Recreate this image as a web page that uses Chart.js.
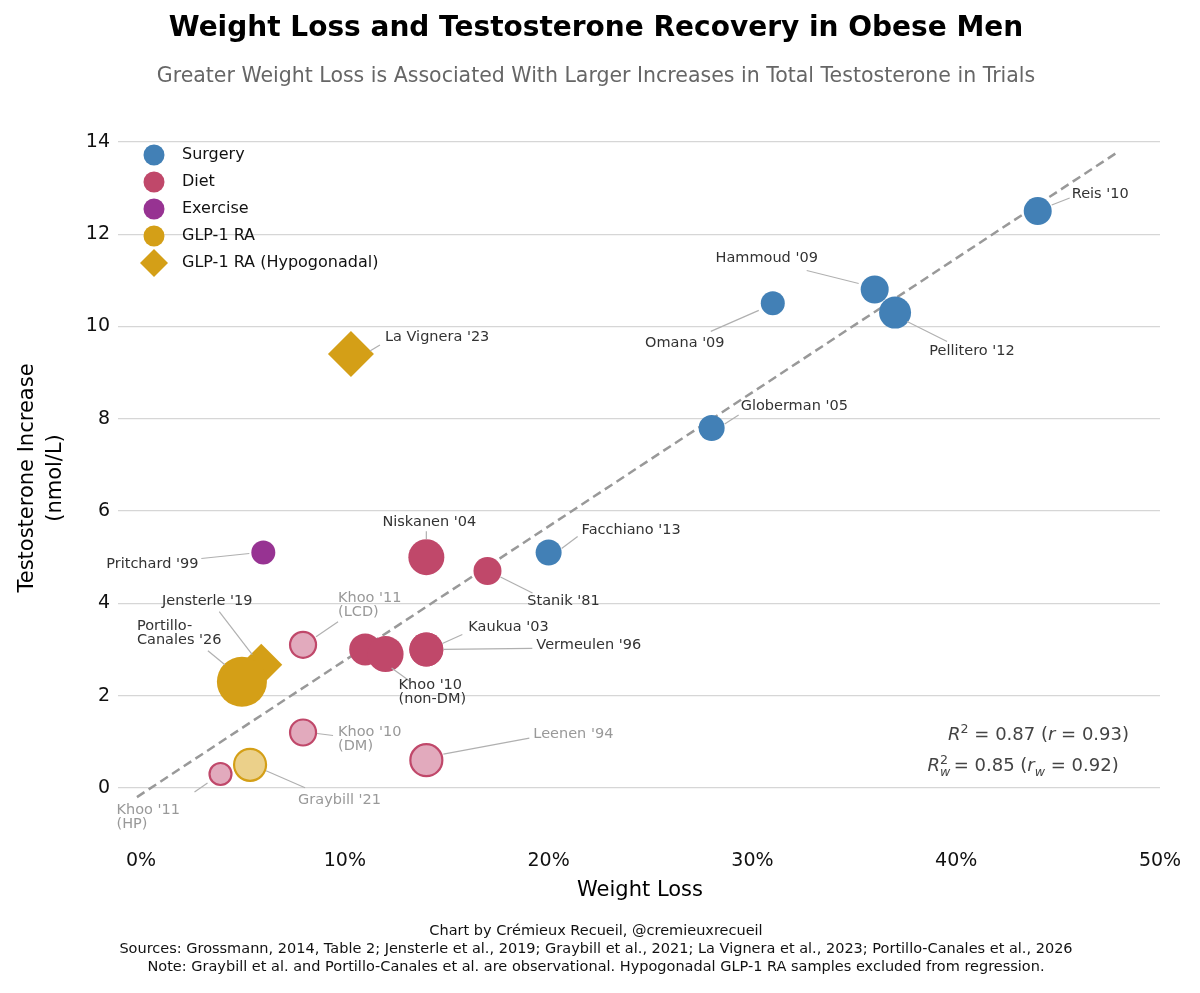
<!DOCTYPE html>
<html>
<head>
<meta charset="utf-8">
<script src="https://cdn.jsdelivr.net/npm/chart.js@4"></script>
<style>
  body { margin: 0; background: #fff; }
  #wrap { width: 1200px; height: 993px; }
</style>
</head>
<body>
<div id="wrap"><canvas id="graph-canvas" width="1200" height="993"></canvas></div>
<script>
// ---- data ----
const surgeryNames = ["Reis '10", "Hammoud '09", "Pellitero '12", "Omana '09", "Globerman '05", "Facchiano '13"]
const surgeryLoss = [44, 36, 37, 31, 28, 20]
const surgeryT = [12.5, 10.8, 10.3, 10.5, 7.8, 5.1]
const surgerySize = [14, 14, 16, 12, 13, 13]

const dietNames = ["Niskanen '04", "Stanik '81", "", "Khoo '10\n(non-DM)", "Kaukua '03", "Vermeulen '96"]
const dietLoss = [14, 17, 11, 12, 14, 14]
const dietT = [5.0, 4.7, 3.0, 2.9, 3.0, 3.0]
const dietSize = [18, 14, 16, 18, 17, 17]

const dietObsNames = ["Khoo '11\n(LCD)", "Khoo '10\n(DM)", "Leenen '94", "Khoo '11\n(HP)"]
const dietObsLoss = [7.95, 7.95, 14, 3.9]
const dietObsT = [3.1, 1.2, 0.6, 0.3]
const dietObsSize = [13, 13, 16, 11]

const exerciseNames = ["Pritchard '99"]
const exerciseLoss = [6]
const exerciseT = [5.1]
const exerciseSize = [12]

const glpNames = ["Portillo-\nCanales '26", "Graybill '21"]
const glpLoss = [4.95, 5.35]
const glpT = [2.3, 0.5]
const glpSize = [25, 16]

const hypoNames = ["Jensterle '19", "La Vignera '23"]
const hypoLoss = [5.9, 10.3]
const hypoT = [2.67, 9.4]
const hypoSize = [21, 23]

const fitLoss = [-0.2, 48]
const fitT = [-0.2, 13.8]

const xTicks = [0, 10, 20, 30, 40, 50]
const yTicks = [0, 2, 4, 6, 8, 10, 12, 14]

// label placement: text offset from point, leader line start/end offsets (px)
const labelPlace = {
  "Reis '10": { t: [34, -17], a: 'left', l: [14, -6, 32, -13] },
  "Hammoud '09": { t: [-108, -31], a: 'center', l: [-16, -6, -68, -19] },
  "Pellitero '12": { t: [77, 39], a: 'center', l: [12, 9, 52, 29] },
  "Omana '09": { t: [-88, 40], a: 'center', l: [-14, 7, -62, 28] },
  "Globerman '05": { t: [29, -22], a: 'left', l: [13, -4, 27, -13] },
  "Facchiano '13": { t: [33, -22], a: 'left', l: [13, -4, 29, -16] },
  "Niskanen '04": { t: [3, -35], a: 'center', l: [0, -18, 0, -26] },
  "Stanik '81": { t: [76, 30], a: 'center', l: [13, 6, 45, 22] },
  "Khoo '10\n(non-DM)": { t: [13, 31], a: 'left', l: [6, 14, 24, 27] },
  "Kaukua '03": { t: [42, -22], a: 'left', l: [16, -6, 36, -15] },
  "Vermeulen '96": { t: [110, -4], a: 'left', l: [17, 0, 106, -1] },
  "Khoo '11\n(LCD)": { t: [35, -47], a: 'left', l: [13, -8, 35, -23] },
  "Khoo '10\n(DM)": { t: [35, 0], a: 'left', l: [14, 1, 30, 3] },
  "Leenen '94": { t: [107, -26], a: 'left', l: [17, -6, 103, -22] },
  "Khoo '11\n(HP)": { t: [-104, 36], a: 'left', l: [-13, 9, -26, 18] },
  "Pritchard '99": { t: [-111, 12], a: 'center', l: [-14, 1, -62, 6] },
  "Portillo-\nCanales '26": { t: [-105, -55], a: 'left', l: [-17, -17, -34, -31] },
  "Graybill '21": { t: [48, 35], a: 'left', l: [16, 6, 55, 23] },
  "Jensterle '19": { t: [-54, -63], a: 'center', l: [-9, -10, -42, -53] },
  "La Vignera '23": { t: [34, -17], a: 'left', l: [19, -3, 29, -9] }
}

const grayLabels = ["Khoo '11\n(LCD)", "Khoo '10\n(DM)", "Leenen '94", "Khoo '11\n(HP)", "Graybill '21"]

const C_SURG = '#4280b6', C_DIET = '#c0486a', C_EX = '#973392', C_GLP = '#d49f17'

const pts = (xs, ys) => xs.map((x, i) => ({ x: x, y: ys[i] }))
const FONT = "'DejaVu Sans', sans-serif"

const scatterSet = (names, xs, ys, sizes, bg, border, bw, style, order) => ({
  type: 'scatter', names: names, data: pts(xs, ys), pointRadius: sizes, pointHoverRadius: sizes,
  backgroundColor: bg, borderColor: border, borderWidth: bw, pointStyle: style, order: order
})

const datasets = [
  { type: 'line', data: pts(fitLoss, fitT), borderColor: '#999', borderWidth: 2.5, borderDash: [9, 5],
    pointRadius: 0, fill: false, order: 20 },
  scatterSet(dietObsNames, dietObsLoss, dietObsT, dietObsSize, '#e2aabd', C_DIET, 2.2, 'circle', 5),
  scatterSet(surgeryNames, surgeryLoss, surgeryT, surgerySize, C_SURG, C_SURG, 0, 'circle', 4),
  scatterSet(dietNames, dietLoss, dietT, dietSize, C_DIET, C_DIET, 0, 'circle', 4),
  scatterSet(exerciseNames, exerciseLoss, exerciseT, exerciseSize, C_EX, C_EX, 0, 'circle', 4),
  scatterSet(hypoNames, hypoLoss, hypoT, hypoSize, C_GLP, C_GLP, 0, 'rectRot', 3),
  scatterSet(glpNames.slice(0, 1), glpLoss.slice(0, 1), glpT.slice(0, 1), glpSize.slice(0, 1), C_GLP, C_GLP, 0, 'circle', 2),
  scatterSet(glpNames.slice(1), glpLoss.slice(1), glpT.slice(1), glpSize.slice(1), '#ebd08a', C_GLP, 2.2, 'circle', 2)
]

const legendItems = [
  ['Surgery', C_SURG, 'circle'], ['Diet', C_DIET, 'circle'], ['Exercise', C_EX, 'circle'],
  ['GLP-1 RA', C_GLP, 'circle'], ['GLP-1 RA (Hypogonadal)', C_GLP, 'diamond']
]

drawSegments = (ctx, segs, xRight, y, size) => {
  // right-aligned run of text pieces with italic / sup / sub
  const fontFor = (s) => (s.i ? 'italic ' : '') + (s.sup || s.sub ? size * 0.7 : size) + 'px ' + FONT
  let total = 0
  segs.forEach(s => { ctx.font = fontFor(s); s.w = ctx.measureText(s.t).width; total += s.sup && s.overlap ? 0 : s.w })
  let x = xRight - total
  let lastX = x
  segs.forEach(s => {
    ctx.font = fontFor(s)
    let dy = s.sup ? -size * 0.4 : s.sub ? size * 0.3 : 0
    let dx = s.overlap ? lastX : x
    ctx.fillText(s.t, dx, y + dy)
    if (!s.overlap) { lastX = x; x += s.w }
  })
}

const decor = {
  id: 'decor',
  afterDatasetsDraw(chart) {
    const ctx = chart.ctx
    const xs = chart.scales.x, ys = chart.scales.y
    ctx.save()
    // point labels
    chart.data.datasets.forEach((ds, di) => {
      if (!ds.names) return
      ds.data.forEach((p, i) => {
        const name = ds.names[i]
        const pl = labelPlace[name]
        if (!name || !pl) return
        const px = xs.getPixelForValue(p.x), py = ys.getPixelForValue(p.y)
        ctx.strokeStyle = '#b0b0b0'; ctx.lineWidth = 1.2
        ctx.beginPath(); ctx.moveTo(px + pl.l[0], py + pl.l[1]); ctx.lineTo(px + pl.l[2], py + pl.l[3]); ctx.stroke()
        ctx.fillStyle = grayLabels.includes(name) ? '#999' : '#333'
        ctx.font = '14.5px ' + FONT
        ctx.textAlign = pl.a; ctx.textBaseline = 'middle'
        name.split('\n').forEach((ln, k) => ctx.fillText(ln, px + pl.t[0], py + pl.t[1] + k * 14))
      })
    })
    // legend
    ctx.textAlign = 'left'; ctx.textBaseline = 'middle'; ctx.font = '16px ' + FONT
    legendItems.forEach((it, k) => {
      const cx = 154, cy = 155 + k * 27
      ctx.fillStyle = it[1]
      ctx.beginPath()
      if (it[2] === 'circle') ctx.arc(cx, cy, 10.5, 0, Math.PI * 2)
      else { ctx.moveTo(cx, cy - 14); ctx.lineTo(cx + 14, cy); ctx.lineTo(cx, cy + 14); ctx.lineTo(cx - 14, cy) }
      ctx.fill()
      ctx.fillStyle = '#111'
      ctx.fillText(it[0], 182, cy)
    })
    // fit statistics
    ctx.fillStyle = '#444'; ctx.textAlign = 'left'; ctx.textBaseline = 'alphabetic'
    drawSegments(ctx, [{ t: 'R', i: true }, { t: '2', sup: true }, { t: ' = 0.87 (' }, { t: 'r', i: true }, { t: ' = 0.93)' }], 1129, 740, 18)
    drawSegments(ctx, [{ t: 'R', i: true }, { t: '2', sup: true }, { t: 'w', sub: true, i: true, overlap: true }, { t: ' = 0.85 (' }, { t: 'r', i: true }, { t: 'w', sub: true, i: true }, { t: ' = 0.92)' }], 1129, 771, 18)
    // titles
    ctx.textAlign = 'center'; ctx.textBaseline = 'middle'
    ctx.fillStyle = '#000'; ctx.font = 'bold 28px ' + FONT
    ctx.fillText('Weight Loss and Testosterone Recovery in Obese Men', 596, 29)
    ctx.fillStyle = '#666'; ctx.font = '20.5px ' + FONT
    ctx.fillText('Greater Weight Loss is Associated With Larger Increases in Total Testosterone in Trials', 596, 77)
    ctx.fillStyle = '#000'; ctx.font = '21px ' + FONT
    ctx.fillText('Weight Loss', 640, 891)
    ctx.save(); ctx.translate(28, 478); ctx.rotate(-Math.PI / 2)
    ctx.fillText('Testosterone Increase', 0, 0); ctx.fillText('(nmol/L)', 0, 28)
    ctx.restore()
    ctx.font = '14.5px ' + FONT; ctx.fillStyle = '#111'
    ctx.fillText('Chart by Crémieux Recueil, @cremieuxrecueil', 596, 931)
    ctx.fillText('Sources: Grossmann, 2014, Table 2; Jensterle et al., 2019; Graybill et al., 2021; La Vignera et al., 2023; Portillo-Canales et al., 2026', 596, 949)
    ctx.fillText('Note: Graybill et al. and Portillo-Canales et al. are observational. Hypogonadal GLP-1 RA samples excluded from regression.', 596, 967)
    ctx.restore()
  }
}

createChart = () => {
  new Chart(document.getElementById('graph-canvas'), {
    type: 'scatter',
    data: { datasets: datasets },
    plugins: [decor],
    options: {
      responsive: false, animation: false,
      layout: { padding: { top: 128, right: 40, left: 0, bottom: 0 } },
      plugins: { legend: { display: false }, tooltip: { enabled: false } },
      scales: {
        x: {
          type: 'linear', min: -1.13, max: 50,
          afterFit: (s) => { s.height = 159 },
          afterBuildTicks: (s) => { s.ticks = xTicks.map(v => ({ value: v })) },
          grid: { display: false }, border: { display: false },
          ticks: { padding: 8, color: '#111', font: { size: 19, family: FONT }, callback: (v) => v + '%' }
        },
        y: {
          type: 'linear', min: -1, max: 14.3,
          afterFit: (s) => { s.width = 118 },
          afterBuildTicks: (s) => { s.ticks = yTicks.map(v => ({ value: v })) },
          grid: { color: '#d6d6d6', lineWidth: 1.2, drawTicks: false }, border: { display: false },
          ticks: { padding: 8, color: '#111', font: { size: 19, family: FONT } }
        }
      }
    }
  })
}

createChart()
</script>
</body>
</html>
